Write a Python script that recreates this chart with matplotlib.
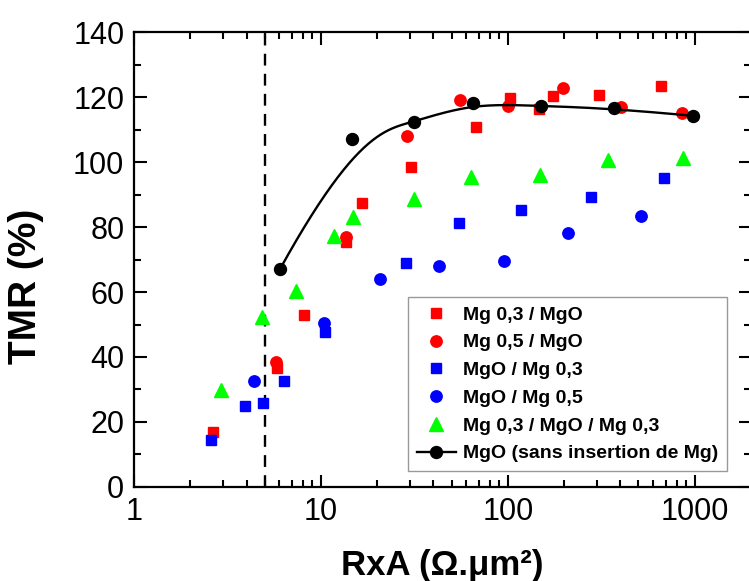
import matplotlib
matplotlib.use("Agg")
import matplotlib.pyplot as plt
import numpy as np

plt.rcParams["font.family"] = ["Liberation Sans", "DejaVu Sans"]

# Mg 0,3 / MgO
rxa_mg03_mgo = [2.64, 5.85, 8.11, 13.7, 16.6, 30.3, 67.6, 103, 146.5, 174, 308, 657]
tmr_mg03_mgo = [16.8, 36.7, 52.9, 75.3, 87.5, 98.5, 110.9, 119.6, 116.2, 120.4, 120.6, 123.4]
# Mg 0,5 / MgO
rxa_mg05_mgo = [5.76, 13.7, 28.9, 55.3, 100.4, 198, 401, 859]
tmr_mg05_mgo = [38.6, 76.8, 108.0, 119.1, 117.3, 122.7, 117.0, 115.2]
# MgO / Mg 0,3
rxa_mgo_mg03 = [2.58, 3.92, 4.87, 6.31, 10.55, 28.5, 54.8, 117.3, 277, 684]
tmr_mgo_mg03 = [14.5, 24.9, 25.9, 32.6, 47.6, 68.8, 81.1, 85.2, 89.1, 95.0]
# MgO / Mg 0,5
rxa_mgo_mg05 = [4.38, 10.4, 20.6, 42.9, 95.5, 211, 517]
tmr_mgo_mg05 = [32.6, 50.6, 64.0, 68.0, 69.5, 78.2, 83.5]
# Mg 0,3 / MgO / Mg 0,3
rxa_sym = [2.91, 4.83, 7.38, 11.8, 14.8, 31.3, 63.8, 148, 344, 865]
tmr_sym = [29.8, 52.2, 60.3, 77.2, 83.0, 88.5, 95.3, 96.0, 100.6, 101.1]
# MgO (sans insertion de Mg)
rxa_ref = [6.05, 14.6, 31.3, 65.2, 150, 369, 983]
tmr_ref = [67.1, 107.0, 112.4, 118.1, 117.2, 116.5, 114.2]

rxa_limit = 5


def bspline(xs, ys, k=3, n=300):
    # clamped B-spline using the points as control polygon (log x)
    px = np.log10(xs)
    py = np.asarray(ys, dtype=float)
    m = len(px)
    knots = np.concatenate([np.zeros(k), np.linspace(0, 1, m - k + 1), np.ones(k)])
    t = np.linspace(0, 1, n)
    t[-1] = 1 - 1e-12

    def N(i, p):
        if p == 0:
            return ((knots[i] <= t) & (t < knots[i + 1])).astype(float)
        out = np.zeros_like(t)
        d1 = knots[i + p] - knots[i]
        d2 = knots[i + p + 1] - knots[i + 1]
        if d1 > 0:
            out += (t - knots[i]) / d1 * N(i, p - 1)
        if d2 > 0:
            out += (knots[i + p + 1] - t) / d2 * N(i + 1, p - 1)
        return out

    bx = np.zeros_like(t)
    by = np.zeros_like(t)
    for i in range(m):
        b = N(i, k)
        bx += b * px[i]
        by += b * py[i]
    return 10 ** bx, by


fig = plt.figure(figsize=(7.49, 5.81), dpi=100)
ax = fig.add_axes([0.1789, 0.1618, 0.8238, 0.7831])

ax.axvline(rxa_limit, color="black", lw=1.7, ls=(0, (5, 3.5)), zorder=1)

ax.plot(rxa_mg03_mgo, tmr_mg03_mgo, "s", color="#ff0000", ms=7.5, mec="#ff0000",
        ls="none", label="Mg 0,3 / MgO")
ax.plot(rxa_mg05_mgo, tmr_mg05_mgo, "o", color="#ff0000", ms=8.2, mec="#ff0000",
        ls="none", label="Mg 0,5 / MgO")
ax.plot(rxa_mgo_mg03, tmr_mgo_mg03, "s", color="#0000ff", ms=7.5, mec="#0000ff",
        ls="none", label="MgO / Mg 0,3")
ax.plot(rxa_mgo_mg05, tmr_mgo_mg05, "o", color="#0000ff", ms=8.2, mec="#0000ff",
        ls="none", label="MgO / Mg 0,5")
ax.plot(rxa_sym, tmr_sym, "^", color="#00ff00", ms=9.5, mec="#00ff00",
        ls="none", label="Mg 0,3 / MgO / Mg 0,3")

sx, sy = bspline(rxa_ref, tmr_ref)
ax.plot(sx, sy, "-", color="black", lw=1.7, zorder=3)
ax.plot(rxa_ref, tmr_ref, "o", color="black", ms=8.6, zorder=4)
# legend handle for the reference series
ax.plot([], [], "o-", color="black", ms=8.6, lw=1.7, label="MgO (sans insertion de Mg)")

ax.set_xscale("log")
ax.set_xlim(1, 2000)
ax.set_ylim(0, 140)
ax.set_xticks([1, 10, 100, 1000])
ax.set_xticklabels(["1", "10", "100", "1000"])
ax.set_yticks(np.arange(0, 141, 20))
ax.set_yticks(np.arange(10, 140, 20), minor=True)

ax.tick_params(which="both", direction="in", top=True, right=True, width=1.5,
               labelsize=22, pad=7)
ax.tick_params(which="major", length=9)
ax.tick_params(which="minor", length=5)
for s in ax.spines.values():
    s.set_linewidth(1.6)

ax.set_xlabel("RxA (Ω.μm²)", fontsize=25, fontweight="bold", labelpad=16)
ax.set_ylabel("TMR (%)", fontsize=28, fontweight="bold")
ax.yaxis.set_label_coords(-0.146, 0.44)

leg = ax.legend(loc="lower left", bbox_to_anchor=(0.444, 0.035), borderaxespad=0,
                frameon=True, fancybox=False, edgecolor="#808080",
                prop={"weight": "bold", "size": 14}, handlelength=2.0,
                handletextpad=0.4, labelspacing=0.52, borderpad=0.45)
leg.get_frame().set_linewidth(1.0)

plt.savefig("out.png", dpi=100)
print("Saved: out.png")
